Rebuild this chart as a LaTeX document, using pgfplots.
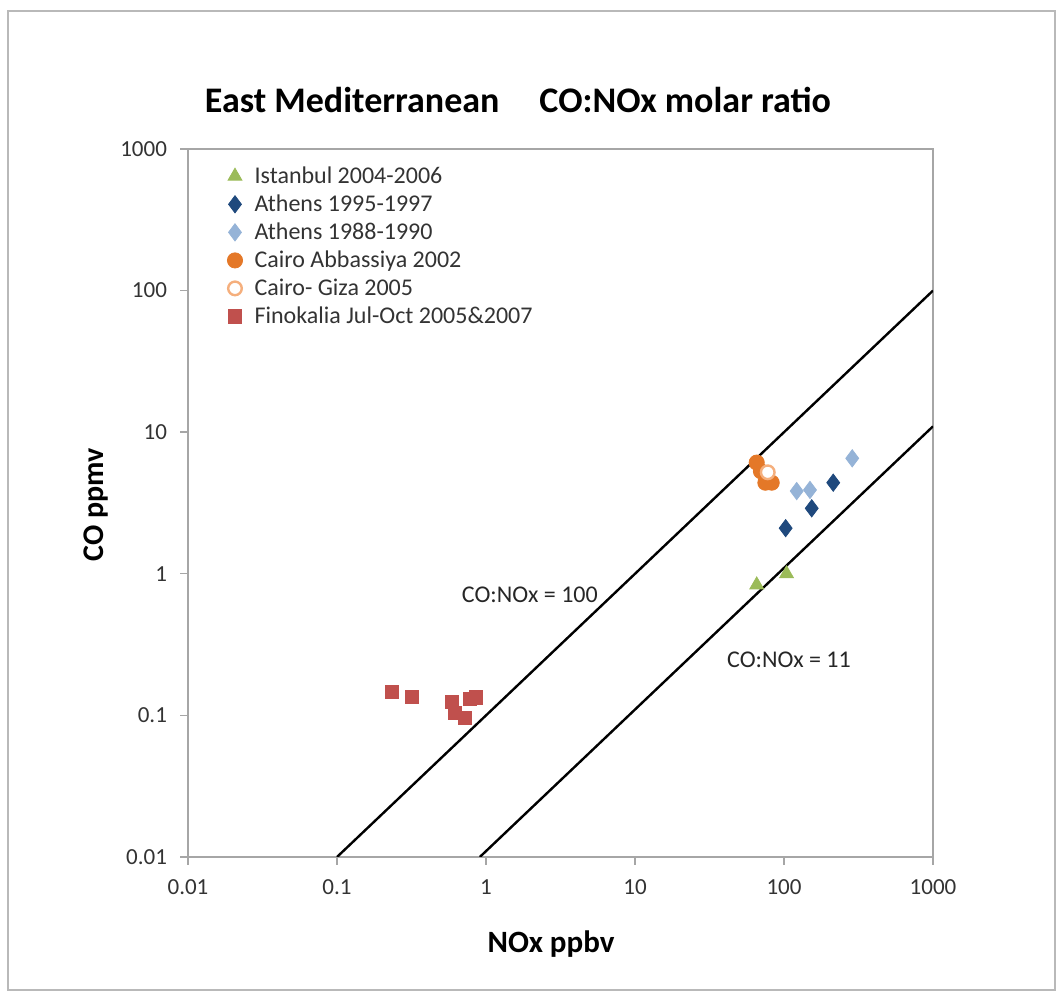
\documentclass[border=0pt]{standalone}
\usepackage{pgfplots}
\pgfplotsset{compat=1.18}
\usepackage{fontspec}
\setmainfont{Carlito}
\definecolor{cgreen}{RGB}{155,187,89}
\definecolor{cnavy}{RGB}{31,73,125}
\definecolor{clblue}{RGB}{149,179,215}
\definecolor{corange}{RGB}{228,120,40}
\definecolor{clorange}{RGB}{245,175,125}
\definecolor{cred}{RGB}{192,80,77}
\begin{document}
\begin{tikzpicture}
\useasboundingbox (0,0) rectangle (532pt,499.5pt);
\draw[gray!55,line width=0.8pt] (4pt,4.5pt) rectangle (527.5pt,494pt);
\begin{axis}[
  at={(94pt,71pt)}, anchor=south west,
  scale only axis, width=372.5pt, height=354pt,
  xmode=log, ymode=log,
  xmin=0.01, xmax=1000, ymin=0.01, ymax=1000,
  axis line style={gray!70, line width=0.7pt},
  xtick={0.01,0.1,1,10,100,1000},
  xticklabels={0.01,0.1,1,10,100,1000},
  ytick={0.01,0.1,1,10,100,1000},
  yticklabels={0.01,0.1,1,10,100,1000},
  xminorticks=false, yminorticks=false,
  tick align=outside,
  major tick length=4pt,
  tick style={gray!70, line width=0.7pt},
  xtick pos=bottom, ytick pos=left,
  ticklabel style={font=\fontsize{11.5}{13}\selectfont, text=black!80},
  /pgf/number format/assume math mode=true,
  xticklabel style={yshift=-4pt},
  yticklabel style={xshift=-3pt},
  legend style={at={(33/745,1-9/708)}, anchor=north west, draw=none, fill=none,
    font=\fontsize{12}{13}\selectfont, text=black!80, row sep=0.2pt},
  legend cell align=left,
  clip=true,
]
\addplot[black, line width=1.2pt, forget plot] coordinates {(0.1,0.01) (1000,100)};
\addplot[black, line width=1.2pt, forget plot] coordinates {(0.90909,0.01) (1000,11)};
\addplot[only marks, mark=triangle*, mark size=4pt, color=cgreen] coordinates {
(65.6,0.834) (104,1.0)};
\addlegendentry{\hspace{4pt}Istanbul 2004-2006}
\addplot[only marks, mark=diamond*, mark size=4.3pt, color=cnavy] coordinates {
(214,4.4) (153.5,2.90) (102.6,2.10)};
\addlegendentry{\hspace{4pt}Athens 1995-1997}
\addplot[only marks, mark=diamond*, mark size=4.3pt, color=clblue] coordinates {
(287,6.54) (121.7,3.84) (149.4,3.91)};
\addlegendentry{\hspace{4pt}Athens 1988-1990}
\addplot[only marks, mark=*, mark size=3.8pt, color=corange] coordinates {
(65.6,6.1) (70,5.3) (75,4.4) (82.7,4.4)};
\addlegendentry{\hspace{4pt}Cairo Abbassiya 2002}
\addplot[only marks, mark=*, mark size=3.4pt, draw=clorange, fill=white, line width=1.2pt] coordinates {
(77.8,5.21)};
\addlegendentry{\hspace{4pt}Cairo- Giza 2005}
\addplot[only marks, mark=square*, mark size=3.3pt, color=cred] coordinates {
(0.233,0.147) (0.32,0.1355) (0.589,0.125) (0.782,0.130) (0.857,0.134) (0.62,0.1035) (0.723,0.0955)};
\addlegendentry{\hspace{4pt}Finokalia Jul-Oct 2005\&2007}
\node[font=\fontsize{12}{14}\selectfont, text=black!85] at (axis cs:1.97,0.71) {CO:NOx = 100};
\node[font=\fontsize{12}{14}\selectfont, text=black!85] at (axis cs:108,0.246) {CO:NOx = 11};
\end{axis}
\node[font=\bfseries\fontsize{18}{21}\selectfont] at (259pt,449.5pt) {East Mediterranean\hspace{20pt}CO:NOx molar ratio};
\node[font=\bfseries\fontsize{15}{17}\selectfont, rotate=90] at (48pt,247pt) {CO ppmv};
\node[font=\bfseries\fontsize{15.5}{17}\selectfont] at (275.5pt,27.5pt) {NOx ppbv};
\end{tikzpicture}
\end{document}
